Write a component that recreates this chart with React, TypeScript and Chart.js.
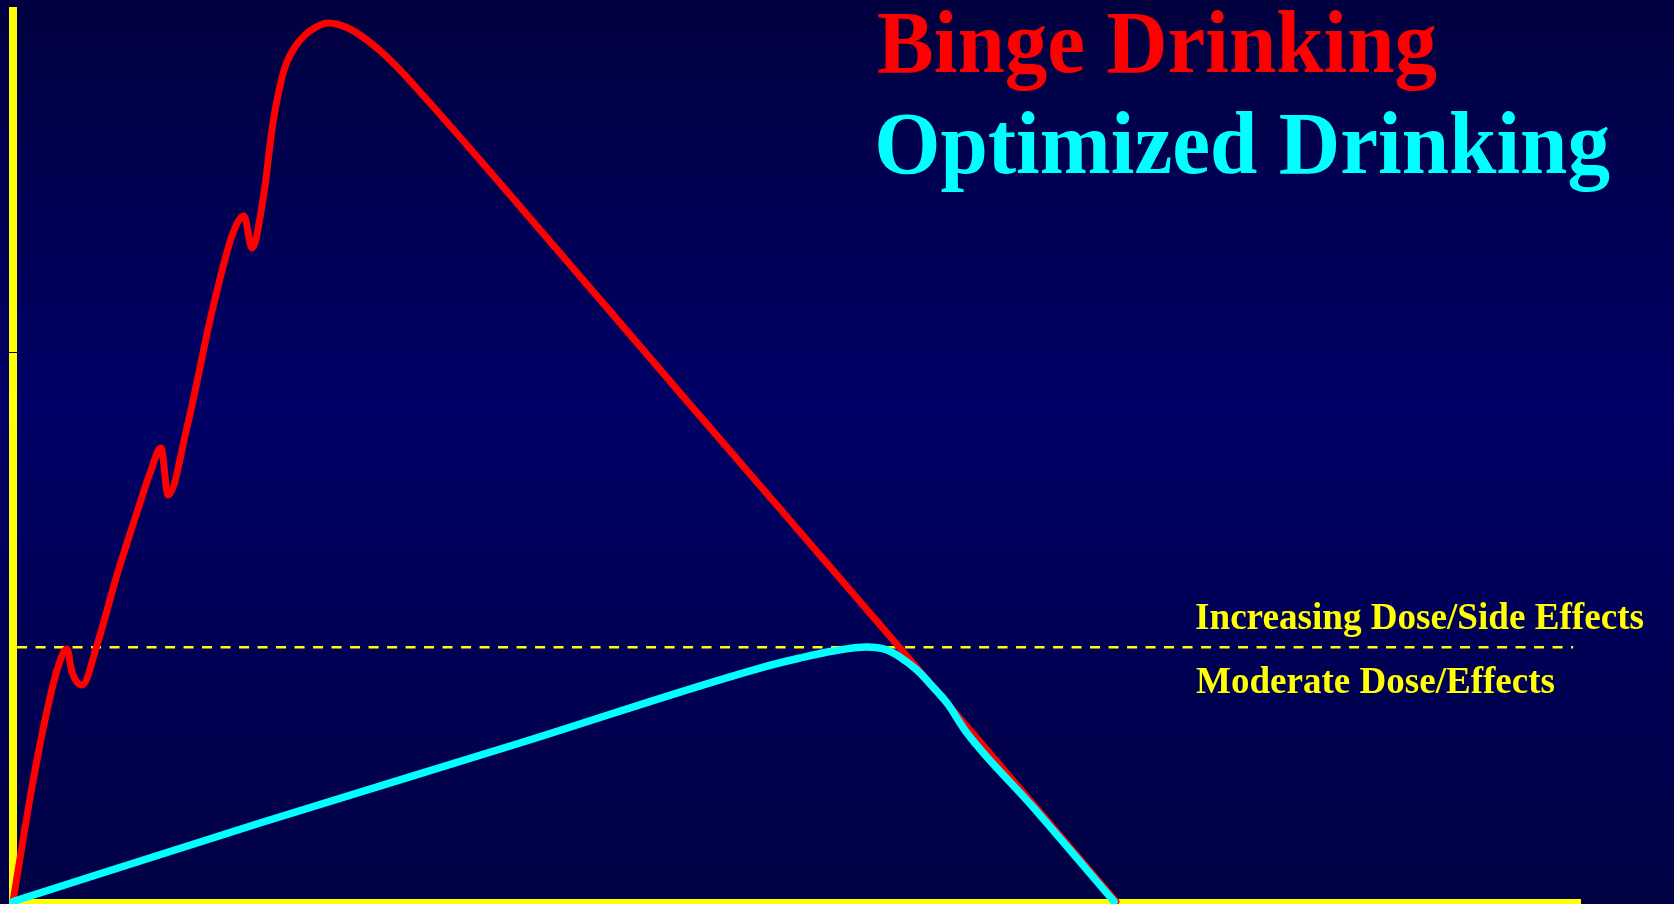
import React, { useEffect, useRef } from "react";
import { Chart, registerables } from "chart.js";

Chart.register(...registerables);

// ---- Data (x: time, % of axis span; y: effect level, % of axis height) ----
const bingeTime = [0, 1.21, 2.04, 2.81, 3.44, 3.76, 4.4, 5.36, 6.63, 8.1, 8.74, 9.44, 9.89, 11.1, 12.76, 14.03, 14.73, 15.24, 15.94, 16.58, 17.16, 17.47, 17.98, 18.62, 19.32, 20.09, 21.49, 23.21, 24.68, 25.96, 29.78, 43.18, 56.51, 70.34];
const bingeLevel = [0, 12.8, 20.29, 25.88, 28.23, 25.66, 24.2, 28.68, 36.5, 44.55, 47.9, 50.7, 45.44, 53.05, 66.46, 74.73, 76.63, 73.06, 78.42, 87.03, 92.17, 93.85, 95.53, 96.87, 97.76, 98.21, 97.54, 95.42, 92.96, 90.5, 82.9, 55.55, 28.45, 0];

const optimizedTime = [0, 15.75, 32.33, 47.64, 50.19, 52.3, 54.46, 55.74, 56.57, 57.65, 58.67, 59.57, 60.84, 65.05, 70.22];
const optimizedLevel = [0, 8.78, 17.72, 26.1, 27.22, 28.0, 28.45, 28.12, 27.33, 25.88, 23.98, 22.19, 18.84, 10.56, 0];

const thresholdLevel = 28.42;
const thresholdSpan = [0.26, 99.5];
const axisTickLevel = 61.47;

const seriesLabels = ["Binge Drinking", "Optimized Drinking"];
const seriesColors = ["#ff0000", "#00ffff"];
const zoneLabels = ["Increasing Dose/Side Effects", "Moderate Dose/Effects"];

const SERIF = '"Liberation Serif", "Times New Roman", Times, serif';

function fitText(
  ctx: CanvasRenderingContext2D,
  text: string,
  font: string,
  color: string,
  inkLeft: number,
  inkRight: number,
  baseline: number
) {
  ctx.save();
  ctx.font = font;
  ctx.textAlign = "left";
  ctx.textBaseline = "alphabetic";
  const m = ctx.measureText(text);
  const ink = m.actualBoundingBoxLeft + m.actualBoundingBoxRight;
  const sx = ink > 0 ? (inkRight - inkLeft) / ink : 1;
  ctx.translate(inkLeft + m.actualBoundingBoxLeft * sx, baseline);
  ctx.scale(sx, 1);
  ctx.fillStyle = color;
  ctx.fillText(text, 0, 0);
  ctx.restore();
}

const backgroundPlugin = {
  id: "bgGradient",
  beforeDraw(chart: any) {
    const { ctx, width, height } = chart;
    ctx.save();
    const g = ctx.createLinearGradient(0, 0, 0, height);
    g.addColorStop(0, "#00003f");
    g.addColorStop(0.45, "#000066");
    g.addColorStop(1, "#000043");
    ctx.fillStyle = g;
    ctx.fillRect(0, 0, width, height);
    ctx.restore();
  },
};

const axesPlugin = {
  id: "yellowAxes",
  beforeDatasetsDraw(chart: any) {
    const { ctx, chartArea, scales } = chart;
    const { left, right, top, bottom } = chartArea;
    ctx.save();
    ctx.fillStyle = "#ffff00";
    // y axis
    ctx.fillRect(left - 4, top, 8, chart.height - top);
    // x axis
    ctx.fillRect(left - 4, bottom - 2.5, right - left + 4, 5);
    // small tick mark on the y axis
    const ty = scales.y.getPixelForValue(axisTickLevel);
    ctx.fillStyle = "#000022";
    ctx.fillRect(left - 4, Math.round(ty), 8, 1);
    ctx.restore();
  },
};

const textPlugin = {
  id: "slideText",
  afterDraw(chart: any) {
    const { ctx } = chart;
    fitText(ctx, seriesLabels[0], `bold 88px ${SERIF}`, seriesColors[0], 878, 1437, 72);
    fitText(ctx, seriesLabels[1], `bold 88px ${SERIF}`, seriesColors[1], 878, 1610, 173);
    fitText(ctx, zoneLabels[0], `bold 38.5px ${SERIF}`, "#ffff00", 1196, 1644, 629);
    fitText(ctx, zoneLabels[1], `bold 38.5px ${SERIF}`, "#ffff00", 1196, 1555, 693);
  },
};

export default function App() {
  const canvasRef = useRef<HTMLCanvasElement | null>(null);

  useEffect(() => {
    const canvas = canvasRef.current;
    if (!canvas) return;

    const chart = new Chart(canvas, {
      type: "line",
      data: {
        datasets: [
          {
            label: seriesLabels[1],
            data: optimizedTime.map((x, i) => ({ x, y: optimizedLevel[i] })),
            borderColor: seriesColors[1],
            borderWidth: 7.5,
            cubicInterpolationMode: "monotone",
            pointRadius: 0,
            fill: false,
            clip: false,
            borderCapStyle: "round",
            borderJoinStyle: "round",
          } as any,
          {
            label: seriesLabels[0],
            data: bingeTime.map((x, i) => ({ x, y: bingeLevel[i] })),
            borderColor: seriesColors[0],
            borderWidth: 7,
            cubicInterpolationMode: "monotone",
            pointRadius: 0,
            fill: false,
            clip: false,
            borderCapStyle: "round",
            borderJoinStyle: "round",
          } as any,
          {
            label: "threshold",
            data: thresholdSpan.map((x) => ({ x, y: thresholdLevel })),
            borderColor: "#ffff00",
            borderWidth: 2.5,
            borderDash: [10, 8.5],
            pointRadius: 0,
            tension: 0,
            fill: false,
            clip: false,
          } as any,
        ],
      },
      options: {
        animation: false,
        responsive: false,
        maintainAspectRatio: false,
        devicePixelRatio: 1,
        events: [],
        layout: { padding: { left: 13, right: 93, top: 7, bottom: 2.5 } },
        plugins: {
          legend: { display: false },
          tooltip: { enabled: false },
          title: { display: false },
        },
        scales: {
          x: { type: "linear", min: 0, max: 100, display: false },
          y: { type: "linear", min: 0, max: 100, display: false },
        },
      },
      plugins: [backgroundPlugin, axesPlugin, textPlugin],
    });

    return () => {
      chart.destroy();
    };
  }, []);

  return (
    <div style={{ position: "fixed", left: 0, top: 0, width: 1674, height: 904, margin: 0, padding: 0 }}>
      <canvas ref={canvasRef} width={1674} height={904} style={{ display: "block", width: 1674, height: 904 }} />
    </div>
  );
}
